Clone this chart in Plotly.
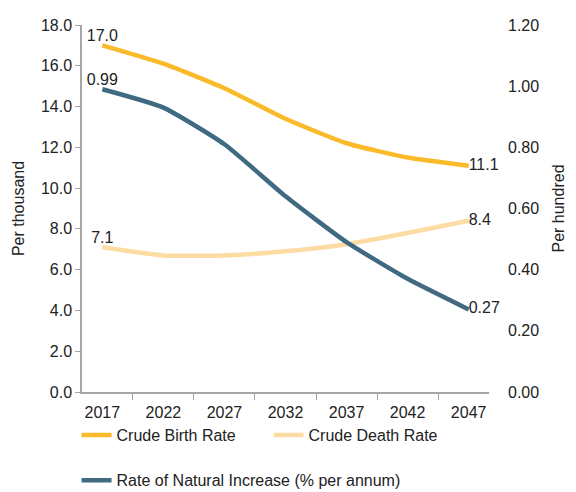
import plotly.graph_objects as go

years = ["2017", "2022", "2027", "2032", "2037", "2042", "2047"]
birth_rate = [17.0, 16.1, 14.9, 13.4, 12.2, 11.5, 11.1]
death_rate = [7.1, 6.7, 6.7, 6.9, 7.25, 7.8, 8.4]
natural_increase = [0.99, 0.93, 0.81, 0.64, 0.49, 0.37, 0.27]

left_ticks = [0, 2, 4, 6, 8, 10, 12, 14, 16, 18]
right_ticks = [0, 0.2, 0.4, 0.6, 0.8, 1.0, 1.2]

FONT = "Liberation Sans, Arial, sans-serif"
TXT = "#222222"

def end_labels(vals, fmt):
    return [fmt.format(v) if i in (0, len(vals) - 1) else "" for i, v in enumerate(vals)]

def positions(n):
    return ["top center"] * (n - 1) + ["middle right"]

def series(x, y, name, color, fmt, legend, yaxis="y"):
    return go.Scatter(
        x=x, y=y, name=name, mode="lines+text", text=end_labels(y, fmt),
        textposition=positions(len(x)), cliponaxis=False,
        line=dict(color=color, width=4.5, shape="spline", smoothing=0.5),
        textfont=dict(size=16, color=TXT, family=FONT),
        legend=legend, yaxis=yaxis,
    )

fig = go.Figure()
fig.add_trace(series(years, birth_rate, "Crude Birth Rate", "#FBBA2A", "{:.1f}", "legend"))
fig.add_trace(series(years, death_rate, "Crude Death Rate", "#FDDCA3", "{:.1f}", "legend"))
fig.add_trace(series(years, natural_increase, "Rate of Natural Increase (% per annum)",
                     "#3F6A82", "{:.2f}", "legend2", yaxis="y2"))

legend_common = dict(orientation="h", xanchor="left", yanchor="middle",
                     xref="container", yref="container",
                     font=dict(size=16, family=FONT, color=TXT),
                     itemwidth=30, bgcolor="rgba(0,0,0,0)")

fig.update_layout(
    width=576, height=492,
    paper_bgcolor="white", plot_bgcolor="white",
    font=dict(family=FONT, size=16, color=TXT),
    margin=dict(l=74, r=95, t=17, b=108, autoexpand=False),
    showlegend=True,
    legend=dict(x=0.119, y=0.132, entrywidth=147, **legend_common),
    legend2=dict(x=0.119, y=0.04, **legend_common),
    xaxis=dict(type="category", showgrid=False, showline=True, linecolor="#A6A6A6",
               linewidth=1.5, ticks="outside", tickson="boundaries", ticklen=6,
               tickcolor="#A6A6A6", tickfont=dict(size=16), automargin=False,
               ticklabelstandoff=5),
    yaxis=dict(range=[0, 18], tickvals=left_ticks, ticktext=[f"{v:.1f}" for v in left_ticks],
               showgrid=False, zeroline=False, showline=True, linecolor="#A6A6A6",
               linewidth=1.5, ticks="outside", ticklen=5, tickcolor="#A6A6A6",
               title=dict(text="Per thousand", font=dict(size=16), standoff=12),
               tickfont=dict(size=16), automargin=False),
    yaxis2=dict(range=[0, 1.2], tickvals=right_ticks, ticktext=[f"{v:.2f}" for v in right_ticks],
                overlaying="y", side="right", showgrid=False, zeroline=False, showline=False,
                ticklabelstandoff=18,
                title=dict(text="Per hundred", font=dict(size=16), standoff=14),
                tickfont=dict(size=16), automargin=False),
)

fig.write_html("out.html")
